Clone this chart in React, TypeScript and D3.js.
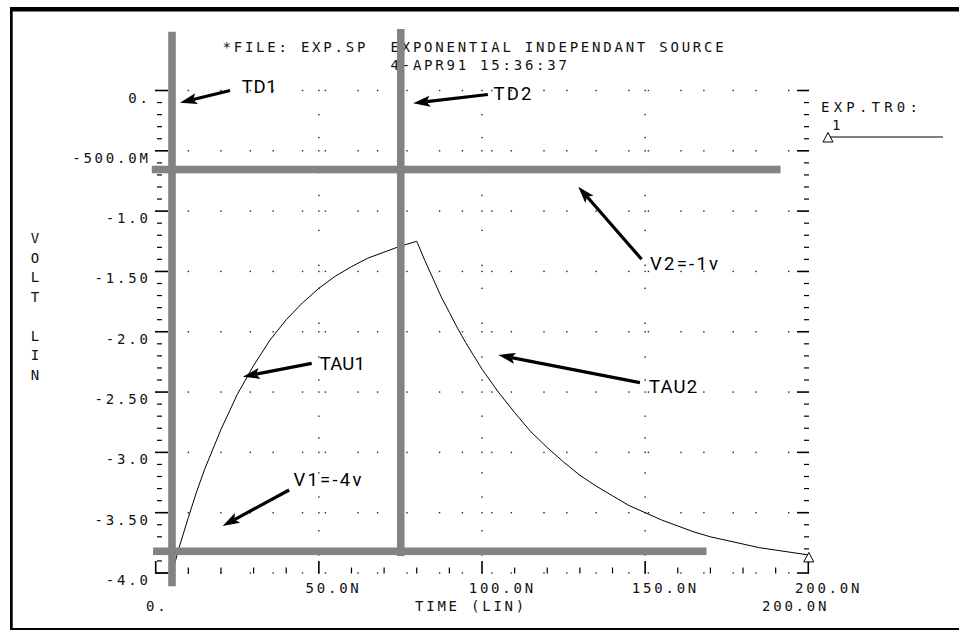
import React from 'react';
import * as d3 from 'd3';

// ---------- data ----------
const timeNs = [0, 5, 7.5, 10, 12.5, 15, 20, 25, 30, 35, 40, 45, 50, 55, 60, 65, 70, 75, 80,
  82.5, 85, 87.5, 90, 92.5, 95, 97.5, 100, 105, 110, 115, 120, 125, 130, 135, 140, 145, 150,
  155, 160, 165, 170, 175, 180, 185, 190, 195, 200];
const voltV = [-4.0, -4.0, -3.76, -3.54, -3.33, -3.14, -2.81, -2.52, -2.28, -2.07, -1.90, -1.76, -1.64, -1.54, -1.46, -1.39, -1.34, -1.29, -1.25,
  -1.41, -1.56, -1.71, -1.84, -1.97, -2.09, -2.20, -2.31, -2.50, -2.67, -2.83, -2.96, -3.08, -3.19, -3.28, -3.36, -3.44, -3.50,
  -3.56, -3.61, -3.66, -3.70, -3.73, -3.76, -3.79, -3.81, -3.83, -3.85];

const yTickValues = [0, -0.5, -1.0, -1.5, -2.0, -2.5, -3.0, -3.5, -4.0];
const yTickLabels = ['0.', '-500.0M', '-1.0', '-1.50', '-2.0', '-2.50', '-3.0', '-3.50', '-4.0'];
const xTickValues = [50, 100, 150, 200];
const xTickLabels = ['50.0N', '100.0N', '150.0N', '200.0N'];
const xStartLabel = '0.';
const xEndLabel = '200.0N';
const xAxisTitle = 'TIME (LIN)';
const yAxisTitle = 'VOLT LIN';
const title1 = '*FILE: EXP.SP  EXPONENTIAL INDEPENDANT SOURCE';
const title2 = '4-APR91 15:36:37';
const legendName = 'EXP.TR0:';
const legendIndex = '1';

// grid dot positions (ns along rows, volts along columns)
const gridDotTimes = [10, 20, 29, 36, 45, 52, 62, 68, 77, 87, 94, 103, 109, 119, 126, 135, 145, 151, 161, 168, 177, 184, 194];
const gridColumnTimes = [50, 100, 150];
const gridColumnVolts = [-0.2, -0.39, -0.68, -0.87, -1.16, -1.45, -1.64, -1.93, -2.21, -2.4, -2.7, -2.88, -3.17, -3.37, -3.65, -3.85];

// gray annotation bars (data coordinates)
const vBarTimes = [5, 75.1];
const vBarTop = [0.487, 0.51];
const vBarBottom = [-4.11, -3.86];
const hBarVolts = [-0.655, -3.82];
const hBarStart = [-1.2, -0.8];
const hBarEnd = [191.5, 168.8];

// text annotations with arrows (data coordinates)
const annLabels = ['TD1', 'TD2', 'V2=-1v', 'TAU2', 'TAU1', 'V1=-4v'];
const annTextT = [26.35, 103.5, 151.5, 151.2, 50.3, 42.2];
const annTextV = [-0.023, -0.079, -1.484, -2.505, -2.317, -3.279];
const annTextW = [35, 38, 68, 48, 45, 68];
const annTailT = [22.8, 101.8, 148.9, 148.4, 47.8, 40.9];
const annTailV = [0.0, -0.033, -1.399, -2.422, -2.262, -3.312];
const annTipT = [7.45, 78.9, 129.5, 105.0, 26.7, 20.5];
const annTipV = [-0.101, -0.106, -0.797, -2.193, -2.373, -3.61];

// ---------- layout ----------
const W = 959;
const H = 630;
const x = d3.scaleLinear().domain([0, 200]).range([155.7, 808.3]);
const y = d3.scaleLinear().domain([0, -4]).range([90.5, 573]);

const MONO = 'DejaVu Sans Mono';
const FS = 14;
const LS = 2.77; // letter spacing -> 11.2px pitch
const PITCH = 11.2;

function Mono(props: { x: number; y: number; text: string; ls?: number }) {
  return (
    <text x={props.x} y={props.y} fontFamily={MONO} fontSize={FS}
      letterSpacing={props.ls ?? LS} fill="#111" style={{ whiteSpace: 'pre' }}>
      {props.text}
    </text>
  );
}

function arrowPath(x1: number, y1: number, x2: number, y2: number) {
  const dx = x2 - x1, dy = y2 - y1;
  const len = Math.hypot(dx, dy);
  const ux = dx / len, uy = dy / len;
  const nx = -uy, ny = ux;
  const HL = 17, HW = 5.5, notch = 3.5;
  const bx = x2 - ux * HL, by = y2 - uy * HL;
  const lx = bx + nx * HW, ly = by + ny * HW;
  const rx = bx - nx * HW, ry = by - ny * HW;
  const mx = x2 - ux * (HL - notch), my = y2 - uy * (HL - notch);
  return {
    head: `M${x2},${y2}L${lx},${ly}L${mx},${my}L${rx},${ry}Z`,
    shaft: { x1, y1, x2: mx, y2: my },
  };
}

function triangle(cx: number, cy: number) {
  return `M${cx},${cy - 4.5}L${cx - 5},${cy + 5}L${cx + 5},${cy + 5}Z`;
}

export default function App() {
  const pts = timeNs.map((t, i) => ({ t, v: voltV[i] }));
  const line = d3.line<{ t: number; v: number }>().x(d => x(d.t)).y(d => y(d.v)).curve(d3.curveLinear);
  const last = pts[pts.length - 1];

  const yMinor = d3.range(0, 41).map(i => ({ v: -i * 0.1, major: i % 5 === 0 }));
  const xMinor = d3.range(0, 21).map(i => ({ t: i * 10, major: i % 5 === 0 }));

  const BAR = '#838383';

  return (
    <svg width={W} height={H} style={{ position: 'absolute', left: 0, top: 0, background: '#fff', display: 'block' }}>
      <rect x={0} y={0} width={W} height={H} fill="#fff" />
      {/* outer frame */}
      <rect x={10} y={7} width={W - 10} height={4.5} fill="#000" />
      <rect x={10} y={7} width={2.7} height={H - 7} fill="#000" />
      <rect x={10} y={628} width={W - 10} height={2} fill="#000" />

      {/* grid dots: rows */}
      {yTickValues.map((v, i) => (
        <g key={'r' + i}>
          {gridDotTimes.map((t, j) => (
            <rect key={j} x={x(t) - 0.7} y={y(v) - 0.7} width={1.4} height={1.4} fill="#222" />
          ))}
        </g>
      ))}
      {/* grid dots: columns */}
      {gridColumnTimes.map((t, i) => (
        <g key={'c' + i}>
          {gridColumnVolts.concat(yTickValues).map((v, j) => (
            <rect key={j} x={x(t) - 0.7} y={y(v) - 0.7} width={1.4} height={1.4} fill="#222" />
          ))}
        </g>
      ))}

      {/* left axis ticks */}
      {yMinor.map((d, i) => (
        <line key={'ly' + i} x1={d.major ? 155 : 157} x2={d.major ? 168 : 162} y1={y(d.v)} y2={y(d.v)}
          stroke="#000" strokeWidth={d.major ? 1.6 : 1.2} />
      ))}
      {/* right axis ticks */}
      {yMinor.map((d, i) => (
        <line key={'ry' + i} x1={d.major ? 797 : 804} x2={809} y1={y(d.v)} y2={y(d.v)}
          stroke="#000" strokeWidth={d.major ? 1.6 : 1.2} />
      ))}
      {/* bottom axis ticks */}
      {xMinor.map((d, i) => (
        <line key={'bx' + i} x1={x(d.t)} x2={x(d.t)} y1={d.major ? 561 : 567.5} y2={y(-4) + 0.5}
          stroke="#000" strokeWidth={d.major ? 1.6 : 1.2} />
      ))}

      {/* curve */}
      <path d={line(pts) || ''} fill="none" stroke="#000" strokeWidth={1} />
      <path d={triangle(x(last.t) + 0.5, y(last.v) + 2)} fill="#fff" stroke="#000" strokeWidth={1} />

      {/* y tick labels */}
      {yTickValues.map((v, i) => {
        const n = yTickLabels[i].length;
        const sx = 147 - 7.6 - (n - 1) * PITCH;
        return <Mono key={'yl' + i} x={sx} y={y(v) + 12} text={yTickLabels[i]} />;
      })}
      {/* x tick labels */}
      {xTickValues.map((t, i) => (
        <Mono key={'xl' + i} x={x(t) - 13.3} y={593} text={xTickLabels[i]} />
      ))}
      <Mono x={146} y={611} text={xStartLabel} />
      <Mono x={415} y={611} text={xAxisTitle} />
      <Mono x={762} y={611} text={xEndLabel} />

      {/* y axis title */}
      {yAxisTitle.split('').map((c, i) => (
        <text key={'yt' + i} x={35} y={243 + i * 19.5} textAnchor="middle" fontFamily={MONO} fontSize={FS} fill="#111">{c}</text>
      ))}

      {/* title */}
      <Mono x={222.5} y={51.5} text={title1} />
      <Mono x={390.5} y={70} text={title2} />

      {/* legend */}
      <Mono x={821} y={112} text={legendName} ls={4.2} />
      <Mono x={832} y={130} text={legendIndex} />
      <line x1={826} x2={943} y1={137} y2={137} stroke="#000" strokeWidth={1} />
      <path d={triangle(828, 137)} fill="#fff" stroke="#000" strokeWidth={1} />

      {/* gray annotation bars */}
      {vBarTimes.map((t, i) => (
        <rect key={'vb' + i} x={x(t) - 3.8} y={y(vBarTop[i])} width={7.6} height={y(vBarBottom[i]) - y(vBarTop[i])} fill={BAR} />
      ))}
      {hBarVolts.map((v, i) => (
        <rect key={'hb' + i} x={x(hBarStart[i])} y={y(v) - 3.8} width={x(hBarEnd[i]) - x(hBarStart[i])} height={7.6} fill={BAR} />
      ))}

      {/* arrows and annotation texts */}
      {annLabels.map((lab, i) => {
        const a = arrowPath(x(annTailT[i]), y(annTailV[i]), x(annTipT[i]), y(annTipV[i]));
        return (
          <g key={'an' + i}>
            <line x1={a.shaft.x1} y1={a.shaft.y1} x2={a.shaft.x2} y2={a.shaft.y2} stroke="#000" strokeWidth={3.2} />
            <path d={a.head} fill="#000" />
            <text x={x(annTextT[i])} y={y(annTextV[i])} fontFamily="Roboto" fontSize={18.5} fill="#000"
              textLength={annTextW[i]} lengthAdjust="spacing">{lab}</text>
          </g>
        );
      })}
    </svg>
  );
}
